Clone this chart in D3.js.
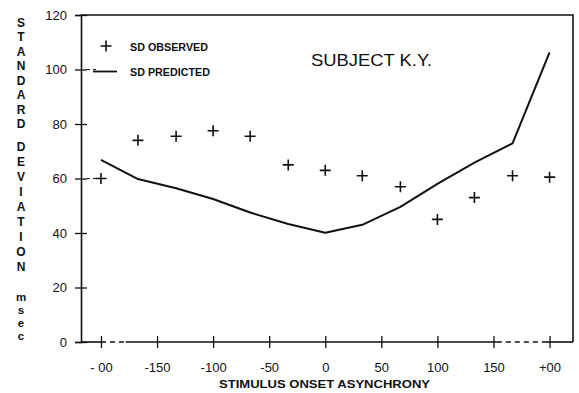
<!DOCTYPE html>
<html lang="en">
<head>
    <meta charset="UTF-8">
    <title>Subject K.Y. standard deviation</title>
    <script src="https://d3js.org/d3.v7.min.js"></script>
    <style>
        body { margin: 0; background: #fff; }
        svg { display: block; }
        text { fill: #111; font-family: "Liberation Sans", Arial, sans-serif; }
    </style>
</head>
<body>
    <div id="chart"></div>

    <script>
        // data
        const soa = [-200, -167, -133, -100, -67, -33, 0, 33, 67, 100, 133, 167, 200];
        const sdObserved = [60, 74, 75.5, 77.5, 75.5, 65, 63, 61, 57, 45, 53, 61, 60.5];
        const sdPredicted = [66.8, 59.8, 56.4, 52.5, 47.5, 43.3, 40.1, 43, 49.6, 58, 65.8, 72.9, 106.3];

        const xTicks = [-200, -150, -100, -50, 0, 50, 100, 150, 200];
        const xTickLabels = ["- 00", "-150", "-100", "-50", "0", "50", "100", "150", "+00"];
        const yTicks = [0, 20, 40, 60, 80, 100, 120];

        const yTitleWords = ["STANDARD", "DEVIATION", "msec"];

        const width = 579, height = 393;

        const svg = d3.select("#chart")
            .append("svg")
            .attr("width", width)
            .attr("height", height);

        const x = d3.scaleLinear().domain([-217.8, 220.9]).range([81, 573]);
        const y = d3.scaleLinear().domain([0, 120]).range([342, 15]);

        const ink = "#111";

        // frame: top and right
        svg.append("path")
            .attr("d", `M${x.range()[0]},${y(120)}H${x.range()[1]}V${y(0)}`)
            .attr("fill", "none")
            .attr("stroke", ink)
            .attr("stroke-width", 1.6);

        // left axis
        const yAxis = svg.append("g")
            .attr("transform", `translate(${x.range()[0]},0)`)
            .call(d3.axisLeft(y).tickValues(yTicks).tickSize(6).tickPadding(8));
        yAxis.select(".domain").attr("stroke", ink).attr("stroke-width", 1.6);
        yAxis.selectAll(".tick line").attr("x1", 6).attr("x2", -6).attr("stroke", ink).attr("stroke-width", 1.3);
        yAxis.selectAll(".tick text")
            .attr("font-size", 13)
            .attr("font-family", "Liberation Sans, Arial, sans-serif")
            .attr("fill", ink);

        // short dashes at 100 and 60 inside the frame (marks on the scan)
        svg.selectAll("line.ydash")
            .data([100, 60])
            .join("line")
            .attr("x1", x.range()[0] + 6)
            .attr("x2", x.range()[0] + 15)
            .attr("y1", d => y(d))
            .attr("y2", d => y(d))
            .attr("stroke", ink)
            .attr("stroke-width", 1.2)
            .attr("stroke-dasharray", "3,3");

        // bottom axis line with the dashed breaks
        const axisParts = [
            [x.range()[0], x(-200), false],
            [x(-200), x(-178), true],
            [x(-178), x(153), false],
            [x(153), x(196), true],
            [x(196), x.range()[1], false]
        ];
        svg.selectAll("line.xaxis")
            .data(axisParts)
            .join("line")
            .attr("x1", d => d[0])
            .attr("x2", d => d[1])
            .attr("y1", y(0))
            .attr("y2", y(0))
            .attr("stroke", ink)
            .attr("stroke-width", 1.6)
            .attr("stroke-dasharray", d => d[2] ? "5,4" : null);

        const xAxis = svg.append("g")
            .attr("transform", `translate(0,${y(0)})`)
            .call(d3.axisBottom(x).tickValues(xTicks)
                .tickFormat((d, i) => xTickLabels[i])
                .tickSize(6).tickPadding(15));
        xAxis.select(".domain").remove();
        xAxis.selectAll(".tick line").attr("y1", -6).attr("y2", 6).attr("stroke", ink).attr("stroke-width", 1.3);
        xAxis.selectAll(".tick text")
            .attr("font-size", 13)
            .attr("font-family", "Liberation Sans, Arial, sans-serif")
            .attr("fill", ink);

        // x title
        svg.append("text")
            .attr("x", 219)
            .attr("y", 388)
            .attr("font-size", 11.5)
            .attr("font-weight", "bold")
            .attr("textLength", 211)
            .attr("lengthAdjust", "spacingAndGlyphs")
            .text("STIMULUS ONSET ASYNCHRONY");

        // y title: stacked letters
        const yTitleStart = [22.7, 147, 297];
        const yTitleStep = [14.5, 15, 13];
        const yTitleSize = [12, 12, 11.5];
        yTitleWords.forEach((w, wi) => {
            svg.append("g").selectAll("text")
                .data(w.split(""))
                .join("text")
                .attr("x", 21)
                .attr("y", (c, i) => yTitleStart[wi] + i * yTitleStep[wi])
                .attr("dy", "0.35em")
                .attr("text-anchor", "middle")
                .attr("font-size", yTitleSize[wi])
                .attr("font-weight", "bold")
                .text(c => c);
        });

        // predicted line
        const line = d3.line()
            .x((d, i) => x(soa[i]))
            .y(d => y(d));
        svg.append("path")
            .datum(sdPredicted)
            .attr("d", line)
            .attr("fill", "none")
            .attr("stroke", ink)
            .attr("stroke-width", 2)
            .attr("stroke-linejoin", "round");

        // observed crosses
        const plus = 5.5;
        const plusPath = (cx, cy) => `M${cx - plus},${cy}H${cx + plus}M${cx},${cy - plus}V${cy + plus}`;
        svg.append("g").selectAll("path")
            .data(sdObserved)
            .join("path")
            .attr("d", (d, i) => plusPath(x(soa[i]), y(d)))
            .attr("stroke", ink)
            .attr("stroke-width", 1.6);

        // legend
        const legend = svg.append("g");
        legend.append("path")
            .attr("d", plusPath(106, 46))
            .attr("stroke", ink)
            .attr("stroke-width", 1.6);
        legend.append("line")
            .attr("x1", 93).attr("x2", 117)
            .attr("y1", 71.5).attr("y2", 71.5)
            .attr("stroke", ink)
            .attr("stroke-width", 1.8);
        legend.selectAll("text")
            .data(["SD OBSERVED", "SD PREDICTED"])
            .join("text")
            .attr("x", 130)
            .attr("y", (d, i) => [47, 72.5][i])
            .attr("dy", "0.35em")
            .attr("font-size", 10)
            .attr("font-weight", "bold")
            .attr("textLength", (d, i) => [78, 80][i])
            .attr("lengthAdjust", "spacingAndGlyphs")
            .text(d => d);

        // subject title
        svg.append("text")
            .attr("x", 311)
            .attr("y", 65.5)
            .attr("font-size", 17)
            .attr("textLength", 121)
            .attr("lengthAdjust", "spacingAndGlyphs")
            .text("SUBJECT K.Y.");
    </script>
</body>
</html>
